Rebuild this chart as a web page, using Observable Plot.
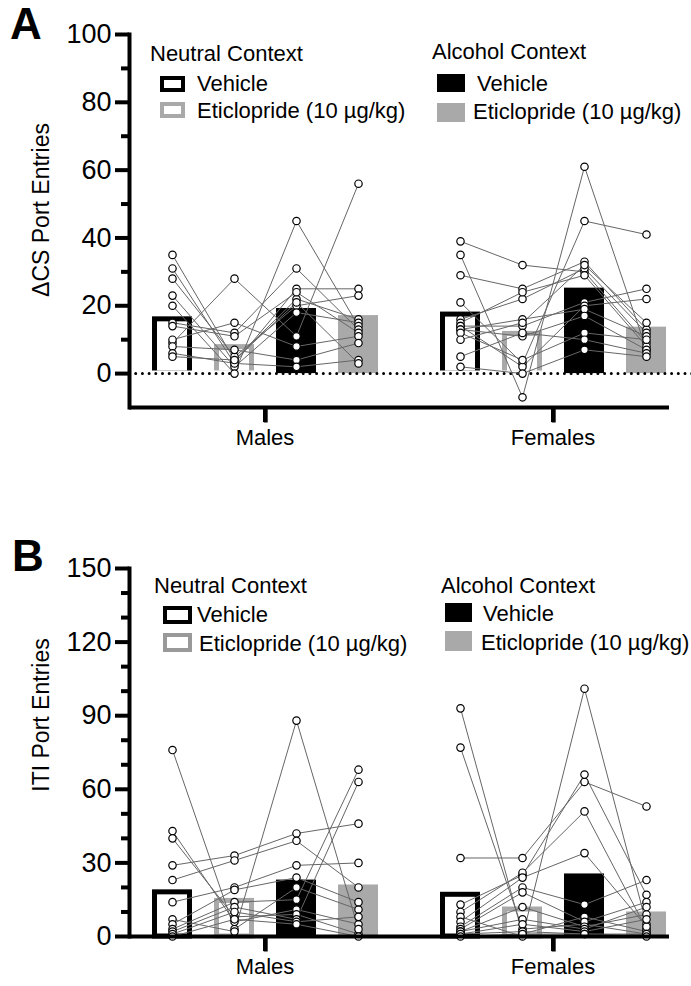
<!DOCTYPE html>
<html><head><meta charset="utf-8">
<script src="https://cdn.jsdelivr.net/npm/d3@7"></script>
<script src="https://cdn.jsdelivr.net/npm/@observablehq/plot@0.6"></script>
<style>
body{margin:0;background:#fff;font-family:"Liberation Sans",Arial,sans-serif;}
#wrap{position:relative;width:691px;height:986px;overflow:hidden;background:#fff;}
.panel{position:absolute;left:0;}
.t{position:absolute;white-space:nowrap;color:#000;font-size:22px;line-height:22px;}
.box{position:absolute;box-sizing:border-box;}
.letter{position:absolute;font-weight:bold;font-size:44px;line-height:44px;}
.ylab{position:absolute;white-space:nowrap;font-size:23px;transform:translate(-50%,-50%) rotate(-90deg);}
</style></head><body><div id="wrap"></div><script>
const sexes = ["Males", "Females"];
const conditions = ["Neutral Vehicle", "Neutral Eticlopride", "Alcohol Vehicle", "Alcohol Eticlopride"];

const dcsTicks = [0, 20, 40, 60, 80, 100];
const dcsMinorTicks = [10, 30, 50, 70, 90];
const itiTicks = [0, 30, 60, 90, 120, 150];
const itiMinorTicks = [10, 20, 40, 50, 70, 80, 100, 110, 130, 140];

// ΔCS port entries, one row per rat: [Neutral Veh, Neutral Etic, Alcohol Veh, Alcohol Etic]
const dcsMales = [[35,4,22,16],[31,3,25,25],[28,5,20,23],[23,2,18,15],[20,0,45,14],[15,12,31,13],[14,11,24,12],[9,28,11,56],[10,15,8,11],[8,7,4,9],[6,3,2,4],[5,4,21,3]];
const dcsFemales = [[39,32,30,9],[35,-7,61,7],[29,25,33,13],[21,3,45,41],[16,22,31,12],[15,24,29,8],[14,14,21,25],[14,2,20,22],[13,16,19,11],[13,11,17,7],[12,4,12,10],[10,15,32,15],[5,12,10,6],[2,0,7,5]];
const dcsMeansMales = [16, 7.8, 19.2, 17.1];
const dcsMeansFemales = [17.4, 11.7, 25.2, 13.7];

// ITI port entries, one row per rat
const itiMales = [[76,3,20,11],[43,6,11,5],[40,8,9,1],[29,33,42,46],[23,31,39,20],[14,20,29,30],[7,2,88,3],[5,19,24,14],[3,14,15,68],[2,12,7,63],[1,10,6,8],[0,7,5,0]];
const itiFemales = [[93,1,8,2],[77,3,5,1],[32,32,63,53],[13,25,66,17],[10,26,51,3],[8,0,101,5],[6,24,34,4],[4,20,13,23],[3,18,6,14],[2,12,4,9],[2,7,3,12],[1,5,2,7],[1,2,1,1],[0,1,1,0]];
const itiMeansMales = [18, 14.5, 23, 21];
const itiMeansFemales = [17, 11, 25.5, 10];

const FONT = "Liberation Sans, Arial, sans-serif";
const GRAY = "#a9a9a9";

// layout of the facet and inner band scales
const WIDTH = 691, MARGIN_LEFT = 128, MARGIN_RIGHT = 2;
const FX_PAD = 0.0588, X_PAD = 0.36;
const fxStep = (WIDTH - MARGIN_LEFT - MARGIN_RIGHT) / (sexes.length - FX_PAD);
const fxBand = fxStep * (1 - FX_PAD);
const xStep = fxBand / (conditions.length - X_PAD + 2 * X_PAD);

// a short downward tick symbol for the x axis
const downTick = {draw(context) { context.moveTo(0, 0); context.lineTo(0, 15); }};

function makePanel({rows, means, yDomain, ticks, minor, height, marginTop, marginBottom, dotted}) {
  const pts = [];
  sexes.forEach((sex, s) => rows[s].forEach((r, i) => r.forEach((v, j) =>
    pts.push({sex, id: sex + i, cond: conditions[j], value: v}))));
  const bars = [];
  sexes.forEach((sex, s) => means[s].forEach((v, j) => bars.push({sex, cond: conditions[j], value: v})));
  const byCond = (c) => bars.filter((d) => d.cond === c);
  const hline = (sex, y, opts) => Plot.ruleY([{sex, y}], {fx: "sex", y: "y", ...opts});
  const marks = [
    Plot.barY(byCond(conditions[0]), {fx: "sex", x: "cond", y: "value", fill: "white", stroke: "black", strokeWidth: 5, insetLeft: 2.5, insetRight: 2.5}),
    Plot.barY(byCond(conditions[1]), {fx: "sex", x: "cond", y: "value", fill: "white", stroke: GRAY, strokeWidth: 5, insetLeft: 2.5, insetRight: 2.5})
  ];
  if (dotted) marks.push(Plot.ruleY([0], {stroke: "white", strokeWidth: 6}));
  marks.push(
    Plot.barY(byCond(conditions[2]), {fx: "sex", x: "cond", y: "value", fill: "black"}),
    Plot.barY(byCond(conditions[3]), {fx: "sex", x: "cond", y: "value", fill: GRAY})
  );
  if (dotted) {
    const dots = {stroke: "black", strokeWidth: 3, strokeDasharray: "0 6.7", strokeLinecap: "round"};
    marks.push(hline("Males", 0, {...dots, insetRight: -17}), hline("Females", 0, {...dots, insetRight: -4}));
  }
  marks.push(
    Plot.line(pts, {fx: "sex", x: "cond", y: "value", z: "id", stroke: "#666", strokeWidth: 1}),
    Plot.dot(pts, {fx: "sex", x: "cond", y: "value", r: 3.7, fill: "white", stroke: "black", strokeWidth: 1.2}),
    hline("Males", yDomain[0], {stroke: "black", strokeWidth: 4, insetRight: -17}),
    hline("Females", yDomain[0], {stroke: "black", strokeWidth: 4, insetRight: 19}),
    // x-axis tick at the centre of each sex group (midway between the 2nd and 3rd bars)
    Plot.dot(sexes.map((sex) => ({sex, cond: conditions[1], y: yDomain[0]})),
      {fx: "sex", x: "cond", y: "y", dx: xStep / 2, symbol: downTick, r: 4, fill: "none", stroke: "black", strokeWidth: 4}),
    Plot.frame({anchor: "left", stroke: "black", strokeWidth: 4, facetAnchor: "left"}),
    Plot.axisY({ticks: minor, tickSize: 8, strokeWidth: 4, text: null, label: null}),
    Plot.axisY({ticks, tickSize: 14, strokeWidth: 4, tickPadding: 4, fontSize: 27, label: null}),
    Plot.axisFx({anchor: "bottom", tickSize: 15, strokeWidth: 4, tickPadding: 7, fontSize: 22, label: null})
  );
  return Plot.plot({
    width: WIDTH, height, marginLeft: MARGIN_LEFT, marginRight: MARGIN_RIGHT, marginTop, marginBottom,
    style: {fontFamily: FONT, fontSize: "22px", background: "white", overflow: "visible", color: "black"},
    fx: {domain: sexes, paddingInner: FX_PAD, paddingOuter: 0, axis: null, label: null},
    x: {domain: conditions, paddingInner: X_PAD, paddingOuter: X_PAD, axis: null, label: null},
    y: {domain: yDomain, axis: null, label: null},
    marks
  });
}

const wrap = document.getElementById("wrap");
function place(el, top) { const d = document.createElement("div"); d.className = "panel"; d.style.top = top + "px"; d.appendChild(el); wrap.appendChild(d); }

place(makePanel({rows: [dcsMales, dcsFemales], means: [dcsMeansMales, dcsMeansFemales], yDomain: [-10, 100], ticks: dcsTicks, minor: dcsMinorTicks, height: 480, marginTop: 34, marginBottom: 73, dotted: true}), 0);
place(makePanel({rows: [itiMales, itiFemales], means: [itiMeansMales, itiMeansFemales], yDomain: [0, 150], ticks: itiTicks, minor: itiMinorTicks, height: 506, marginTop: 88, marginBottom: 50, dotted: false}), 480);

function text(str, left, top, cls = "t") { const d = document.createElement("div"); d.className = cls; d.style.left = left + "px"; d.style.top = top + "px"; d.textContent = str; wrap.appendChild(d); }
function box(left, top, w, h, css) { const d = document.createElement("div"); d.className = "box"; Object.assign(d.style, {left: left + "px", top: top + "px", width: w + "px", height: h + "px"}, css); wrap.appendChild(d); }

// Panel letters and axis titles
text("A", 10, 2, "letter");
text("B", 12, 534, "letter");
text("ΔCS Port Entries", 41, 210, "ylab");
text("ITI Port Entries", 41, 715, "ylab");

// Legend A
text("Neutral Context", 150, 43);
box(160, 76, 25, 16, {border: "4px solid black", background: "white"});
text("Vehicle", 197, 73);
box(160, 102, 25, 16, {border: "4px solid " + GRAY, background: "white"});
text("Eticlopride (10 µg/kg)", 197, 100);
text("Alcohol Context", 432, 41);
box(437, 74, 28, 18, {background: "black"});
text("Vehicle", 477, 73);
box(437, 103, 28, 19, {background: GRAY});
text("Eticlopride (10 µg/kg)", 473, 101);

// Legend B
text("Neutral Context", 154, 575);
box(163, 606, 29, 18, {border: "4px solid black", background: "white"});
text("Vehicle", 197, 604);
box(163, 633, 29, 19, {border: "4px solid #999", background: "white"});
text("Eticlopride (10 µg/kg)", 199, 633);
text("Alcohol Context", 441, 575);
box(445, 603, 27, 19, {background: "black"});
text("Vehicle", 483, 603);
box(445, 631, 27, 20, {background: GRAY});
text("Eticlopride (10 µg/kg)", 481, 632);
</script></body></html>
